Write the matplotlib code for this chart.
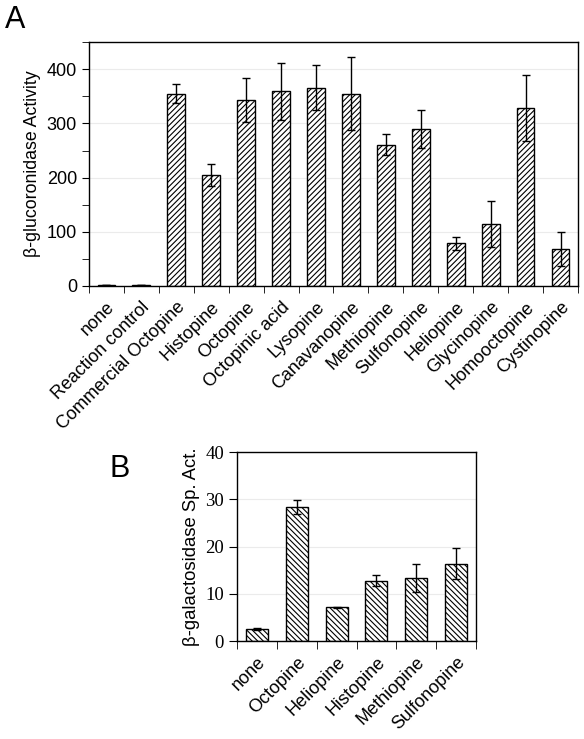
import matplotlib.pyplot as plt
from matplotlib.ticker import MultipleLocator
import numpy as np

plt.rcParams['font.family'] = ['Liberation Sans', 'DejaVu Sans']
plt.rcParams['hatch.linewidth'] = 0.8

# panel A data
labels_a = ["none", "Reaction control", "Commercial Octopine", "Histopine", "Octopine",
            "Octopinic acid", "Lysopine", "Canavanopine", "Methiopine", "Sulfonopine",
            "Heliopine", "Glycinopine", "Homooctopine", "Cystinopine"]
gus = [1, 1, 355, 205, 343, 359, 366, 355, 261, 289, 79, 114, 329, 68]
gus_err = [0, 0, 18, 21, 40, 53, 41, 68, 20, 35, 12, 42, 61, 31]

# panel B data
labels_b = ["none", "Octopine", "Heliopine", "Histopine", "Methiopine", "Sulfonopine"]
gal = [2.5, 28.4, 7.1, 12.8, 13.3, 16.4]
gal_err = [0.15, 1.5, 0.2, 1.1, 2.9, 3.3]

fig = plt.figure(figsize=(5.84, 7.39), dpi=100)

axA = fig.add_axes([0.152, 0.613, 0.838, 0.330])
xa = np.arange(len(labels_a))
axA.bar(xa, gus, width=0.5, color='white', edgecolor='black', hatch='//////', linewidth=1.0,
        yerr=gus_err, error_kw=dict(ecolor='black', elinewidth=1.0, capsize=3, capthick=1.0), zorder=2)
axA.set_xlim(-0.5, len(labels_a) - 0.5)
axA.set_ylim(0, 450)
axA.yaxis.set_minor_locator(MultipleLocator(50))
axA.set_yticks([0, 100, 200, 300, 400])
axA.grid(axis='y', color='#ebebeb', linewidth=0.8, zorder=0)
axA.set_xticks(xa)
axA.set_xticklabels(labels_a, rotation=45, ha='right', rotation_mode='anchor', fontsize=13)
axA.set_xticks(np.arange(-0.5, len(labels_a)), minor=True)
axA.tick_params(axis='x', which='major', length=0, pad=9)
axA.tick_params(axis='x', which='minor', length=5, direction='out')
axA.tick_params(axis='y', which='both', direction='out', labelsize=13, length=5)
axA.set_ylabel("β-glucoronidase Activity", fontsize=12.8, labelpad=4)
for s in axA.spines.values():
    s.set_linewidth(1.0)

axB = fig.add_axes([0.406, 0.1326, 0.409, 0.2557])
xb = np.arange(len(labels_b))
axB.bar(xb, gal, width=0.55, color='white', edgecolor='black', hatch='\\\\\\\\\\\\', linewidth=1.0,
        yerr=gal_err, error_kw=dict(ecolor='black', elinewidth=1.0, capsize=3, capthick=1.0), zorder=2)
axB.set_xlim(-0.5, len(labels_b) - 0.5)
axB.set_ylim(0, 40)
axB.set_yticks([0, 10, 20, 30, 40])
axB.grid(axis='y', color='#ebebeb', linewidth=0.8, zorder=0)
for t in axB.get_yticklabels():
    t.set_fontfamily(['Liberation Serif', 'DejaVu Serif'])
    t.set_fontsize(13.5)
axB.set_xticks(xb)
axB.set_xticklabels(labels_b, rotation=45, ha='right', rotation_mode='anchor', fontsize=13)
axB.set_xticks(np.arange(-0.5, len(labels_b)), minor=True)
axB.tick_params(axis='x', which='major', length=0, pad=9)
axB.tick_params(axis='x', which='minor', length=6, direction='out')
axB.tick_params(axis='y', direction='out', length=6)
axB.set_ylabel("β-galactosidase Sp. Act.", fontsize=13.3, labelpad=4)
for s in axB.spines.values():
    s.set_linewidth(1.0)

fig.text(0.008, 0.993, "A", fontsize=22, va='top', ha='left')
fig.text(0.188, 0.385, "B", fontsize=22, va='top', ha='left')

fig.savefig("out.png", dpi=100)
